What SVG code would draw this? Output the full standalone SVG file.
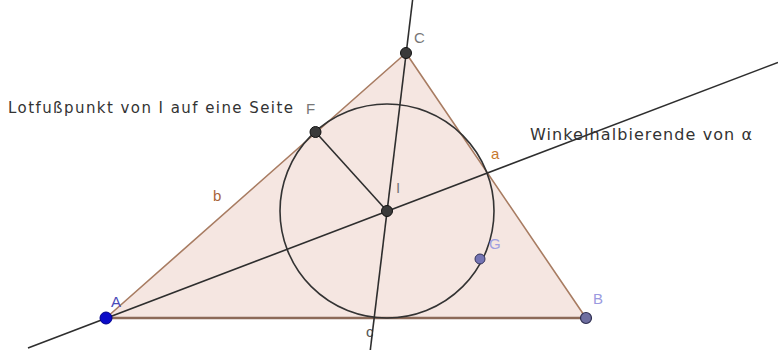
<svg xmlns="http://www.w3.org/2000/svg" width="778" height="350" viewBox="0 0 778 350">
<style>
  .bg{fill:#ffffff}
  .tri{fill:#f5e6e1;stroke:none}
  .side{stroke:#a87c62;stroke-width:1.6;fill:none;stroke-linecap:round}
  .base{stroke:#8c6a58;stroke-width:2.4}
  .ln{stroke:#2e2e2e;stroke-width:1.6;fill:none}
  .circ{stroke:#333333;stroke-width:1.6;fill:none}
  .dot{fill:#3a3a3a;stroke:#111;stroke-width:1}
  .txt{font-family:"DejaVu Sans","Liberation Sans",sans-serif;fill:#333333}
  .lbl{font-family:"Liberation Sans",Arial,sans-serif;font-size:15px}
</style>
<rect class="bg" x="0" y="0" width="778" height="350"/>

<g id="triangle">
  <polygon class="tri" points="106,318 586,318 406,53"/>
  <line class="side" x1="106" y1="318" x2="406" y2="53"/>
  <line class="side" x1="586" y1="318" x2="406" y2="53"/>
  <line class="side base" x1="106" y1="318" x2="586" y2="318"/>
  <text class="lbl" x="213" y="201" fill="#a8643a">b</text>
  <text class="lbl" x="491" y="159" fill="#c8782e">a</text>
  <text class="lbl" x="366" y="337" fill="#555555" font-size="14">c</text>
</g>

<g id="incircle">
  <circle class="circ" cx="387" cy="211" r="107"/>
</g>

<g id="connectors">
  <line class="ln" x1="28" y1="348" x2="778" y2="62.4"/>
  <line class="ln" x1="412.6" y1="0" x2="370.3" y2="350"/>
  <line class="ln" x1="387" y1="211" x2="315.5" y2="132"/>
</g>

<g id="point-A">
  <circle cx="106" cy="318" r="6" fill="#0a0ac8" stroke="#00008a" stroke-width="1"/>
  <text class="lbl" x="111" y="307" fill="#4a4ab8">A</text>
</g>

<g id="point-B">
  <circle cx="586" cy="318" r="5.5" fill="#6e6ea0" stroke="#2e2e50" stroke-width="1.2"/>
  <text class="lbl" x="593" y="304" fill="#9a9ae0">B</text>
</g>

<g id="point-C">
  <circle class="dot" cx="406" cy="53" r="5.5"/>
  <text class="lbl" x="414" y="43" fill="#777777">C</text>
</g>

<g id="point-F">
  <circle class="dot" cx="315.5" cy="132" r="5.5"/>
  <text class="lbl" x="306" y="114" fill="#777777">F</text>
  <text class="txt" x="8" y="113" font-size="15" textLength="285" lengthAdjust="spacing">Lotfußpunkt von I auf eine Seite</text>
</g>

<g id="point-I">
  <circle class="dot" cx="387" cy="211" r="5.5"/>
  <text class="lbl" x="396" y="193" fill="#777777" font-size="14">I</text>
</g>

<g id="point-G">
  <circle cx="480" cy="259" r="5" fill="#7474b4" stroke="#34345a" stroke-width="1"/>
  <text class="lbl" x="489" y="249" fill="#a0a0e0">G</text>
</g>

<g id="bisector-label">
  <text class="txt" x="530" y="140" font-size="16" textLength="222" lengthAdjust="spacing">Winkelhalbierende von α</text>
</g>
</svg>
